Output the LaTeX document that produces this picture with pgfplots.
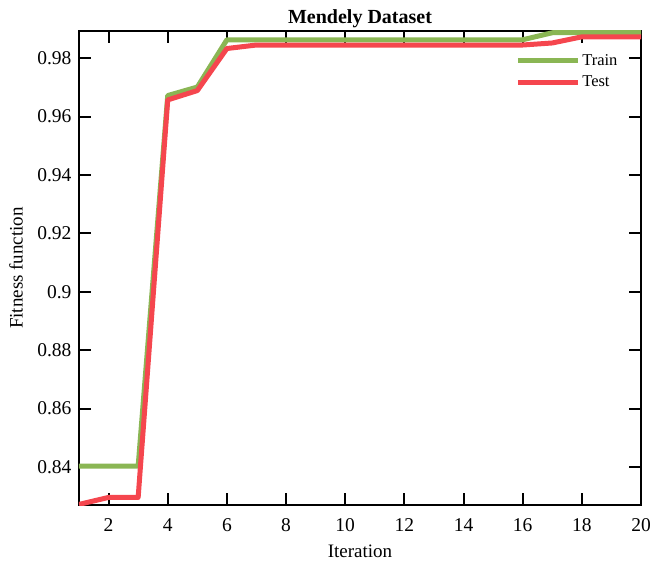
\documentclass[border=0pt]{standalone}
\usepackage{fontspec}
\setmainfont{Liberation Serif}
\usepackage{pgfplots}
\pgfplotsset{compat=1.18}
\definecolor{trainc}{RGB}{138,182,84}
\definecolor{testc}{RGB}{245,70,78}
\begin{document}
\begin{tikzpicture}
\begin{axis}[
  scale only axis, width=562bp, height=474bp,
  xmin=1, xmax=20, ymin=0.827, ymax=0.9893,
  xtick={2,4,6,8,10,12,14,16,18,20},
  ytick={0.84,0.86,0.88,0.9,0.92,0.94,0.96,0.98},
  tick align=inside, major tick length=12bp,
  axis line style={line width=2bp},
  every tick/.style={black, line width=2bp},
  tick label style={font=\fontsize{19.5bp}{22bp}\selectfont},
  /pgf/number format/assume math mode=true,
  /pgf/number format/fixed,
  xticklabel style={yshift=-10bp},
  yticklabel style={xshift=-4bp},
  xlabel={Iteration},
  ylabel={Fitness function},
  label style={font=\fontsize{19bp}{22bp}\selectfont},
  xlabel style={at={(rel axis cs:0.5,0)}, anchor=center, yshift=-46bp},
  ylabel style={at={(rel axis cs:0,0.5)}, anchor=center, rotate=0, yshift=63bp},
  title={\textbf{Mendely Dataset}},
  title style={font=\fontsize{20bp}{23bp}\selectfont, at={(0.5,1)}, anchor=south, yshift=-6bp},
  legend style={draw=none, fill=none, at={(rel axis cs:0.776,0.955)}, anchor=north west,
    font=\fontsize{16.5bp}{20bp}\selectfont, row sep=5bp, inner sep=0pt,
    legend cell align=left},
  legend image code/.code={\draw[#1] (0bp,0bp) -- (60bp,0bp);},
  every axis plot/.append style={line width=5bp, line join=round},
]
\addplot[trainc, mark=none] coordinates {
(1,0.8403) (2,0.8403) (3,0.8403) (4,0.9672) (5,0.9701) (6,0.9863) (7,0.9863)
(8,0.9863) (9,0.9863) (10,0.9863) (11,0.9863) (12,0.9863) (13,0.9863) (14,0.9863)
(15,0.9863) (16,0.9863) (17,0.9887) (18,0.9887) (19,0.9887) (20,0.9887)};
\addlegendentry{Train}
\addplot[testc, mark=none] coordinates {
(1,0.8272) (2,0.8296) (3,0.8296) (4,0.9657) (5,0.9689) (6,0.9833) (7,0.9845)
(8,0.9845) (9,0.9845) (10,0.9845) (11,0.9845) (12,0.9845) (13,0.9845) (14,0.9845)
(15,0.9845) (16,0.9845) (17,0.9852) (18,0.9873) (19,0.9873) (20,0.9873)};
\addlegendentry{Test}
\coordinate (ll) at (rel axis cs:0,0);
\coordinate (ur) at (rel axis cs:1,1);
\end{axis}
\pgfresetboundingbox
\path[use as bounding box] ([shift={(-79bp,-59bp)}]ll) rectangle ([shift={(9bp,31bp)}]ur);
\end{tikzpicture}
\end{document}
